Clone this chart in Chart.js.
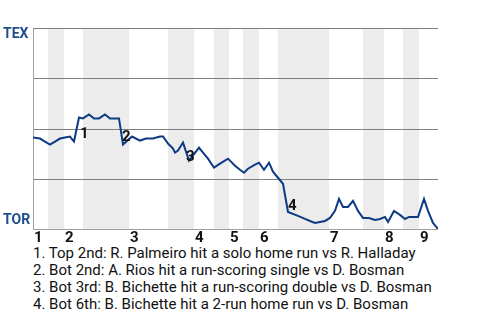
<!DOCTYPE html>
<html lang="en">
  <head>
    <meta charset="UTF-8" />
    <title>Win Probability</title>
    <script src="https://cdn.jsdelivr.net/npm/chart.js@4"></script>
    <style>
      body { margin: 0; background: #fff; font-family: Roboto, sans-serif; }
      #wrap { position: relative; width: 480px; height: 245px; }
      #notes { padding-left: 33px; font-size: 15px; line-height: 17px; color: #111; }
    </style>
  </head>
  <body>
    <div id="wrap"><canvas id="myChart" width="480" height="245"></canvas></div>
    <div id="notes"></div>

    <script>
      // play index along the game, and TEX win chance (100 = TEX, 0 = TOR)
      const playIndex = [0, 1.4, 2.4, 3.4, 4.4, 5.4, 6.4, 7.4, 8.2, 9.2, 10, 11.2, 12.2, 13.2, 14.4, 15.4, 17.2, 18,
        19.8, 21.4, 22.6, 24, 25.4, 26, 27, 28, 28.4, 29, 30, 31.2, 33.2, 34, 35, 36.2, 37.4, 39, 40.4, 41.4, 42.2, 43,
        44.4, 45.2, 46.2, 47.2, 48, 49, 50, 51, 53, 54.4, 55.4, 56.4, 57.4, 58.4, 59.4, 60.4, 61.2, 62, 63, 64, 65, 66,
        67.2, 68.4, 69.4, 70.4, 71, 72.2, 73.4, 74.4, 75.2, 77, 78.2, 79, 80, 81];
      const texWinPct = [45.5, 45, 43.5, 42, 43.5, 45, 45.5, 46, 43.5, 55.5, 55, 57, 55, 55, 57, 55, 55, 42,
        46, 44, 45, 45, 46, 46, 42.5, 40, 38, 39, 43, 34, 40.5, 38, 35, 30.5, 32.5, 35, 31.5, 29.5, 28, 30,
        32, 33, 29.5, 33, 28.5, 25.5, 22.5, 8.5, 6.5, 5, 4, 3, 3.5, 4, 5.5, 9, 15, 11, 11, 14, 9, 5.5,
        5.5, 4.5, 5, 6, 3.5, 9, 7, 5, 6, 6, 15, 9, 3, 0];

      const innings = ['1', '2', '3', '4', '5', '6', '7', '8', '9'];
      const inningStart = [0, 6.2, 19.2, 32.2, 39.2, 45.2, 59.2, 70.2, 77.2];
      const botStart = [3, 10, 27, 36.2, 42, 49, 66, 74];
      const botEnd = [6.2, 19.2, 32.2, 39.2, 45.2, 59.2, 70.2, 77.2];

      const gridValues = [100, 75, 50, 25];
      const teams = ['TEX', 'TOR'];

      const markerNum = ['1', '2', '3', '4'];
      const markerPlay = [9.4, 17.8, 30.6, 51];
      const markerPct = [47, 45.5, 35.5, 11.5];

      const notes = [
        '1. Top 2nd: R. Palmeiro hit a solo home run vs R. Halladay',
        '2. Bot 2nd: A. Rios hit a run-scoring single vs D. Bosman',
        '3. Bot 3rd: B. Bichette hit a run-scoring double vs D. Bosman',
        '4. Bot 6th: B. Bichette hit a 2-run home run vs D. Bosman'
      ];

      document.getElementById('notes').innerHTML = notes.map(n => '<div>' + n + '</div>').join('');

      const backdrop = {
        id: 'backdrop',
        beforeDatasetsDraw(chart) {
          const { ctx, chartArea: a, scales: { x, y } } = chart;
          ctx.save();
          ctx.fillStyle = '#ececec';
          botStart.forEach((s, i) => {
            const x0 = x.getPixelForValue(s);
            const x1 = x.getPixelForValue(botEnd[i]);
            ctx.fillRect(x0, a.top, x1 - x0, a.bottom - a.top);
          });
          ctx.strokeStyle = '#808080';
          ctx.lineWidth = 1;
          gridValues.forEach(v => {
            const py = Math.round(y.getPixelForValue(v)) + 0.5;
            ctx.beginPath();
            ctx.moveTo(a.left, py);
            ctx.lineTo(a.right, py);
            ctx.stroke();
          });
          ctx.strokeStyle = '#a0a0a0';
          ctx.beginPath();
          ctx.moveTo(a.left + 0.5, a.top);
          ctx.lineTo(a.left + 0.5, a.bottom + 0.5);
          ctx.lineTo(a.right, a.bottom + 0.5);
          ctx.stroke();
          ctx.restore();
        },
        afterDatasetsDraw(chart) {
          const { ctx, chartArea: a, scales: { x, y } } = chart;
          ctx.save();
          ctx.textBaseline = 'middle';
          ctx.textAlign = 'left';
          ctx.font = 'bold 14px Roboto';
          ctx.fillStyle = '#1f4e8c';
          ctx.fillText(teams[0], 3, y.getPixelForValue(100) + 6);
          ctx.fillText(teams[1], 3, y.getPixelForValue(0) - 9);
          ctx.font = 'bold 15px Roboto';
          ctx.fillStyle = '#111';
          innings.forEach((t, i) => {
            ctx.fillText(t, x.getPixelForValue(inningStart[i]) + 1, a.bottom + 9);
          });
          markerNum.forEach((t, i) => {
            ctx.fillText(t, x.getPixelForValue(markerPlay[i]), y.getPixelForValue(markerPct[i]));
          });
          ctx.restore();
        }
      };

      const ctx = document.getElementById('myChart').getContext('2d');
      const myChart = new Chart(ctx, {
        type: 'line',
        data: {
          datasets: [{
            data: playIndex.map((p, i) => ({ x: p, y: texWinPct[i] })),
            borderColor: '#0d3a85',
            borderWidth: 2,
            pointRadius: 0,
            tension: 0,
            fill: false
          }]
        },
        options: {
          responsive: false,
          animation: false,
          layout: { padding: { left: 33, top: 28, right: 42, bottom: 16 } },
          plugins: { legend: { display: false }, tooltip: { enabled: false } },
          scales: {
            x: { type: 'linear', min: 0, max: 81, display: false },
            y: { min: 0, max: 100, display: false }
          }
        },
        plugins: [backdrop]
      });
    </script>
  </body>
</html>
